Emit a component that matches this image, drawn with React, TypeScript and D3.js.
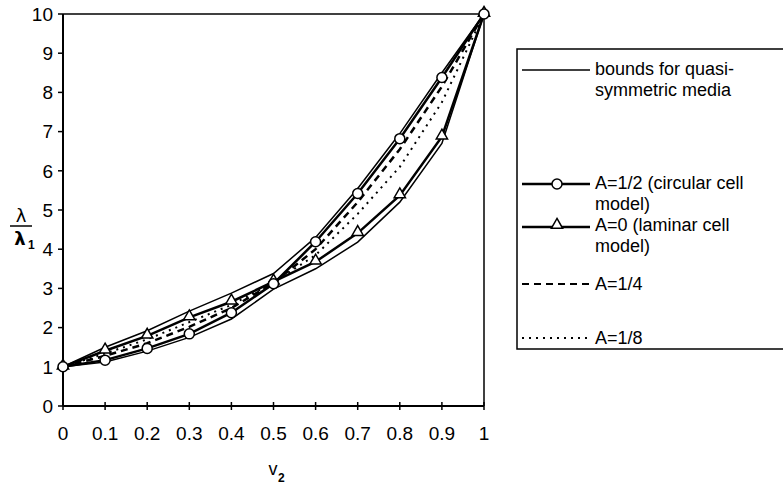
import React from 'react'
import * as d3 from 'd3'

// volume fraction of phase 2
const xValues = [0, 0.1, 0.2, 0.3, 0.4, 0.5, 0.6, 0.7, 0.8, 0.9, 1]
const upperBound = [1, 1.5, 1.92, 2.42, 2.88, 3.38, 4.3, 5.55, 6.95, 8.5, 10]
const lowerBound = [1, 1.12, 1.4, 1.75, 2.22, 2.98, 3.5, 4.18, 5.2, 6.7, 10]
const circularCell = [1, 1.17, 1.47, 1.84, 2.38, 3.12, 4.19, 5.42, 6.82, 8.38, 10]
const laminarCell = [1, 1.41, 1.79, 2.26, 2.66, 3.17, 3.68, 4.41, 5.37, 6.87, 10]
const aQuarter = [1, 1.28, 1.6, 2.02, 2.5, 3.14, 4.0, 5.2, 6.55, 8.15, 10]
const aEighth = [1, 1.34, 1.7, 2.14, 2.58, 3.15, 3.85, 4.9, 6.1, 7.75, 10]

const xTicks = [0, 0.1, 0.2, 0.3, 0.4, 0.5, 0.6, 0.7, 0.8, 0.9, 1]
const xTickLabels = ['0', '0.1', '0.2', '0.3', '0.4', '0.5', '0.6', '0.7', '0.8', '0.9', '1']
const yTicks = [0, 1, 2, 3, 4, 5, 6, 7, 8, 9, 10]

const W = 783, H = 489
const font = 'Liberation Sans, Arial, sans-serif'

export default function App() {
  const x = d3.scaleLinear().domain([0, 1]).range([63, 484])
  const y = d3.scaleLinear().domain([0, 10]).range([406, 14])

  const line = (vals: number[]) =>
    d3.line<number>().x((d, i) => x(xValues[i])).y(d => y(d))(vals) || ''

  const tri = d3.symbol().type(d3.symbolTriangle).size(55)()

  return (
    <svg width={W} height={H} style={{ position: 'absolute', left: 0, top: 0 }}
      fontFamily={font}>
      <rect width={W} height={H} fill="#fff" />
      {/* plot frame */}
      <line x1={x(0)} x2={x(1)} y1={y(10)} y2={y(10)} stroke="#000" strokeWidth={1.5} />
      <line x1={x(1)} x2={x(1)} y1={y(10)} y2={y(0)} stroke="#000" strokeWidth={1.5} />
      <line x1={x(0)} x2={x(0)} y1={y(10)} y2={y(0)} stroke="#000" strokeWidth={2} />
      <line x1={x(0)} x2={x(1)} y1={y(0)} y2={y(0)} stroke="#000" strokeWidth={2} />
      {yTicks.map(t => (
        <g key={'y' + t}>
          <line x1={x(0) - 5} x2={x(0)} y1={y(t)} y2={y(t)} stroke="#000" strokeWidth={1.5} />
          <text x={53} y={y(t)} dy="0.36em" textAnchor="end" fontSize={19}>{t}</text>
        </g>
      ))}
      {xTicks.map((t, i) => (
        <g key={'x' + t}>
          <line x1={x(t)} x2={x(t)} y1={y(0) - 4} y2={y(0) + 4} stroke="#000" strokeWidth={1.5} />
          <text x={x(t)} y={433} dy="0.36em" textAnchor="middle" fontSize={19}>{xTickLabels[i]}</text>
        </g>
      ))}

      {/* series */}
      <path d={line(upperBound)} fill="none" stroke="#000" strokeWidth={1.5} />
      <path d={line(lowerBound)} fill="none" stroke="#000" strokeWidth={1.5} />
      <path d={line(aEighth)} fill="none" stroke="#000" strokeWidth={2} strokeDasharray="2,5" />
      <path d={line(aQuarter)} fill="none" stroke="#000" strokeWidth={2.5} strokeDasharray="7,5" />
      <path d={line(laminarCell)} fill="none" stroke="#000" strokeWidth={2.5} />
      <path d={line(circularCell)} fill="none" stroke="#000" strokeWidth={2.5} />
      {laminarCell.map((v, i) => (
        <path key={'t' + i} d={tri} transform={`translate(${x(xValues[i])},${y(v) - 1})`}
          fill="#fff" stroke="#000" strokeWidth={1.5} />
      ))}
      {circularCell.map((v, i) => (
        <circle key={'c' + i} cx={x(xValues[i])} cy={y(v)} r={5}
          fill="#fff" stroke="#000" strokeWidth={1.5} />
      ))}

      {/* axis titles */}
      <g fontWeight="bold">
        <text x={21} y={216} dy="0.35em" textAnchor="middle" fontSize={18} fontFamily="DejaVu Sans, sans-serif" fontWeight="normal">λ</text>
        <line x1={10} x2={32} y1={226} y2={226} stroke="#000" strokeWidth={1.5} />
        <text x={20} y={239} dy="0.35em" textAnchor="middle" fontSize={18} fontFamily="DejaVu Sans, sans-serif">λ</text>
        <text x={28} y={245} dy="0.35em" fontSize={12}>1</text>
      </g>
      <text x={273} y={469} dy="0.35em" textAnchor="middle" fontSize={18}>v</text>
      <text x={278} y={478} dy="0.35em" fontSize={12} fontWeight="bold">2</text>

      {/* legend */}
      <rect x={517} y={49} width={300} height={300} fill="none" stroke="#000" strokeWidth={1.5} />
      <g fontSize={18}>
        <line x1={522} x2={590} y1={70} y2={70} stroke="#000" strokeWidth={1.5} />
        <text x={595} y={69} dy="0.36em">bounds for quasi-</text>
        <text x={595} y={90} dy="0.36em">symmetric media</text>

        <line x1={522} x2={590} y1={184} y2={184} stroke="#000" strokeWidth={2.5} />
        <circle cx={557} cy={184} r={5} fill="#fff" stroke="#000" strokeWidth={1.5} />
        <text x={595} y={183} dy="0.36em">A=1/2 (circular cell</text>
        <text x={595} y={204} dy="0.36em">model)</text>

        <line x1={522} x2={590} y1={227} y2={227} stroke="#000" strokeWidth={2.5} />
        <path d={tri} transform="translate(557,225)" fill="#fff" stroke="#000" strokeWidth={1.5} />
        <text x={595} y={225} dy="0.36em">A=0 (laminar cell</text>
        <text x={595} y={246} dy="0.36em">model)</text>

        <line x1={522} x2={590} y1={284} y2={284} stroke="#000" strokeWidth={2} strokeDasharray="7,5" />
        <text x={595} y={284} dy="0.36em">A=1/4</text>

        <line x1={522} x2={590} y1={338} y2={338} stroke="#000" strokeWidth={2} strokeDasharray="2,5" />
        <text x={595} y={338} dy="0.36em">A=1/8</text>
      </g>
    </svg>
  )
}
